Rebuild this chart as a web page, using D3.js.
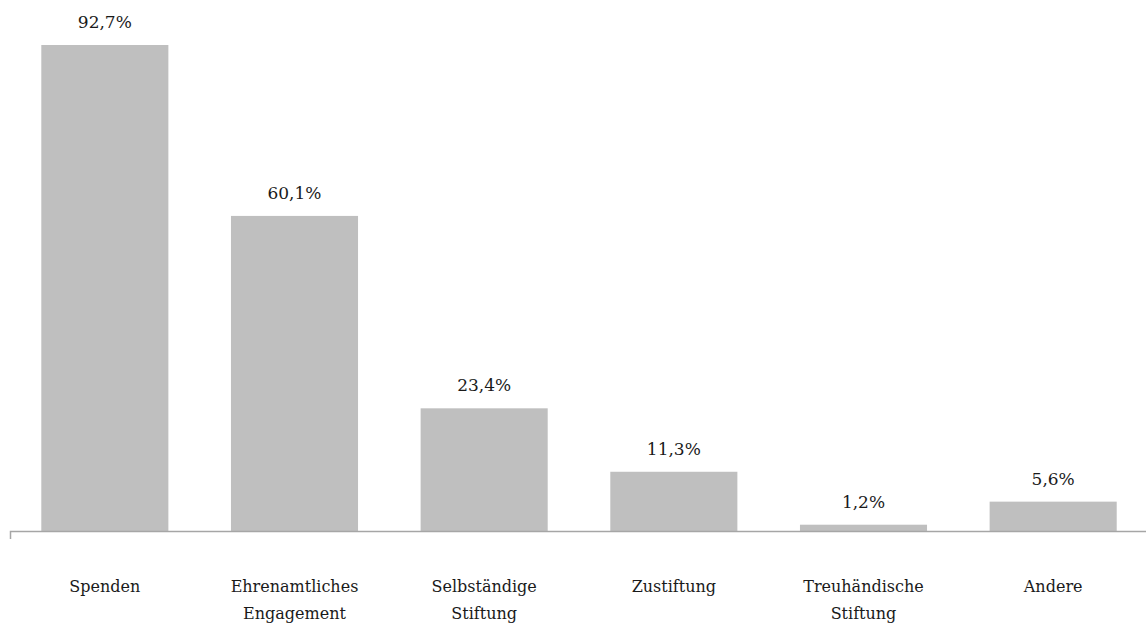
<!DOCTYPE html>
<html>
<head>
<meta charset="utf-8">
<script src="https://cdn.jsdelivr.net/npm/d3@7"></script>
<style>
  body { margin: 0; background: #fff; }
</style>
</head>
<body>
<svg id="chart"></svg>
<script>
const width = 1146;
const height = 628;
const baseline = 531;
const font = "'DejaVu Serif', 'Liberation Serif', serif";

const categories = [['Spenden'], ['Ehrenamtliches', 'Engagement'], ['Selbständige', 'Stiftung'], ['Zustiftung'], ['Treuhändische', 'Stiftung'], ['Andere']];
const values = [92.7, 60.1, 23.4, 11.3, 1.2, 5.6];
const valueLabels = ['92,7%', '60,1%', '23,4%', '11,3%', '1,2%', '5,6%'];

const data = categories.map((c, i) => ({ key: c.join(' '), lines: c, value: values[i], label: valueLabels[i] }));

const svg = d3.select('#chart')
    .attr('width', width)
    .attr('height', height);

const x = d3.scaleBand()
    .domain(data.map(d => d.key))
    .range([10, 1148])
    .paddingInner(0.33)
    .paddingOuter(0.165);

const y = d3.scaleLinear().domain([0, 92.7]).range([baseline, 45]);

svg.selectAll('rect.bar').data(data).enter().append('rect')
    .attr('class', 'bar')
    .attr('x', d => x(d.key))
    .attr('width', x.bandwidth())
    .attr('y', d => y(d.value))
    .attr('height', d => baseline - y(d.value))
    .attr('fill', '#bfbfbf');

// axis line with a small tick at the left end
svg.append('path')
    .attr('d', `M10.5,539V${baseline}.5H${width}`)
    .attr('fill', 'none')
    .attr('stroke', '#a6a6a6')
    .attr('stroke-width', 1.5);

svg.selectAll('text.val').data(data).enter().append('text')
    .attr('class', 'val')
    .attr('x', d => x(d.key) + x.bandwidth() / 2)
    .attr('y', d => y(d.value) - 17)
    .attr('text-anchor', 'middle')
    .attr('font-family', font)
    .attr('font-size', 17)
    .attr('fill', '#1a1a1a')
    .text(d => d.label);

const cat = svg.selectAll('text.cat').data(data).enter().append('text')
    .attr('class', 'cat')
    .attr('x', d => x(d.key) + x.bandwidth() / 2)
    .attr('y', 592)
    .attr('text-anchor', 'middle')
    .attr('font-family', font)
    .attr('font-size', 16)
    .attr('fill', '#1a1a1a');

cat.selectAll('tspan').data(d => d.lines).enter().append('tspan')
    .attr('x', function() { return d3.select(this.parentNode).attr('x'); })
    .attr('dy', (d, i) => i === 0 ? 0 : 27)
    .text(d => d);
</script>
</body>
</html>
